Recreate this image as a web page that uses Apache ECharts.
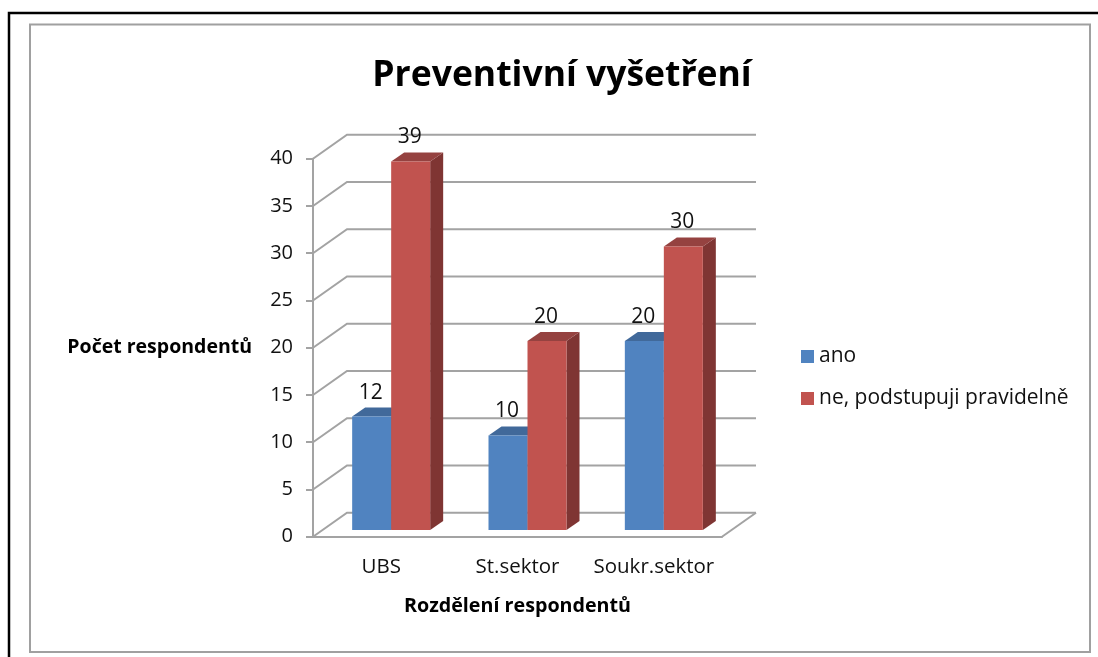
<!DOCTYPE html>
<html>
<head>
<meta charset="utf-8">
<style>html,body{margin:0;padding:0;background:#fff}#chart{width:1098px;height:657px}</style>
<script src="https://cdn.jsdelivr.net/npm/echarts@6/dist/echarts.min.js"></script>
</head>
<body>
<div id="chart"></div>
<script>
// Survey results: preventive check-ups by respondent group
const categories = ['UBS', 'St.sektor', 'Soukr.sektor'];
const anoValues = [12, 10, 20];
const neValues = [39, 20, 30];
const yTicks = [0, 5, 10, 15, 20, 25, 30, 35, 40];

const FONT = 'Open Sans';
const TEXT = '#111111';
const GRID = '#a3a3a3';

// Oblique projection used for the pseudo-3D look
const WALL_DX = 34, WALL_DY = -24;
const BAR_DX = 10, BAR_DY = -6.7;
const DEPTH_DX = 13, DEPTH_DY = -9;
const BAR_W = 39;

function barRenderer(colors, shift) {
  return function (params, api) {
    const v = api.value(1);
    const top = api.coord([api.value(0), v]);
    const base = api.coord([api.value(0), 0]);
    const x0 = top[0] + BAR_DX + shift, x1 = x0 + BAR_W;
    const yT = top[1] + BAR_DY, yB = base[1] + BAR_DY;
    return {
      type: 'group',
      children: [
        { type: 'polygon', shape: { points: [[x1, yT], [x1 + DEPTH_DX, yT + DEPTH_DY], [x1 + DEPTH_DX, yB + DEPTH_DY], [x1, yB]] }, style: { fill: colors.side } },
        { type: 'polygon', shape: { points: [[x0, yT], [x1, yT], [x1 + DEPTH_DX, yT + DEPTH_DY], [x0 + DEPTH_DX, yT + DEPTH_DY]] }, style: { fill: colors.top } },
        { type: 'rect', shape: { x: x0, y: yT, width: BAR_W, height: yB - yT }, style: { fill: colors.front } },
        { type: 'text', x: x0 + BAR_W / 2 - 1, y: yT - 24, style: { text: String(v), fill: TEXT, font: '21px "' + FONT + '"', align: 'center', verticalAlign: 'middle' } }
      ]
    };
  };
}

function wallRenderer(params, api) {
  const cs = params.coordSys;
  const v = api.value(0);
  const y = api.coord([0, v])[1];
  const children = [{
    type: 'polyline',
    shape: { points: [[cs.x, y], [cs.x + WALL_DX, y + WALL_DY], [cs.x + cs.width + WALL_DX, y + WALL_DY]] },
    style: { stroke: GRID, lineWidth: 2, fill: null }
  }];
  if (v === 0) {
    children.push({
      type: 'line',
      shape: { x1: cs.x + cs.width, y1: y, x2: cs.x + cs.width + WALL_DX, y2: y + WALL_DY },
      style: { stroke: GRID, lineWidth: 2 }
    });
  }
  return { type: 'group', children };
}

const chart = echarts.init(document.getElementById('chart'), null, { renderer: 'canvas' });
chart.setOption({
  animation: false,
  backgroundColor: '#ffffff',
  textStyle: { fontFamily: FONT, color: TEXT },
  title: {
    text: 'Preventivní vyšetření',
    left: 557, top: 71, textAlign: 'center', textVerticalAlign: 'middle',
    textStyle: { fontFamily: FONT, fontSize: 35.5, fontWeight: 'bold', color: '#000' }
  },
  legend: {
    orient: 'vertical', left: 801, top: 346, padding: 0, itemWidth: 13, itemHeight: 13, itemGap: 21,
    icon: 'rect',
    data: ['ano', 'ne, podstupuji pravidelně'],
    textStyle: { fontFamily: FONT, fontSize: 21, color: TEXT }
  },
  grid: { left: 313, right: 376, top: 158.7, bottom: 120.3, outerBoundsMode: 'none' },
  xAxis: {
    type: 'category', data: categories,
    name: 'Rozdělení respondentů', nameLocation: 'middle', nameGap: 60,
    nameTextStyle: { fontFamily: FONT, fontSize: 19.7, fontWeight: 'bold', color: '#000' },
    axisLine: { lineStyle: { color: GRID, width: 2 } },
    axisTick: { length: 6, lineStyle: { color: GRID, width: 2 } },
    axisLabel: { fontFamily: FONT, fontSize: 20.5, color: TEXT, margin: 20, interval: 0 }
  },
  yAxis: {
    type: 'value', min: 0, max: 40, interval: 5,
    name: 'Počet respondentů', nameLocation: 'middle', nameRotate: 0, nameGap: 61,
    nameTextStyle: { fontFamily: FONT, fontSize: 19.5, fontWeight: 'bold', color: '#000', padding: [6, 0, 0, 0] },
    axisLine: { show: true, lineStyle: { color: GRID, width: 2 } },
    axisTick: { show: true, length: 7, lineStyle: { color: GRID, width: 2 } },
    axisLabel: { fontFamily: FONT, fontSize: 20, color: TEXT, margin: 20, padding: [6, 0, 0, 0] },
    splitLine: { show: false }
  },
  series: [
    { type: 'custom', z: 1, silent: true, coordinateSystem: 'cartesian2d', data: yTicks.map(v => [v]), encode: { y: 0 }, renderItem: wallRenderer },
    {
      type: 'custom', z: 2, name: 'ano', coordinateSystem: 'cartesian2d',
      itemStyle: { color: '#5083C0' },
      data: anoValues.map((v, i) => [i, v]),
      encode: { x: 0, y: 1 },
      renderItem: barRenderer({ front: '#5083C0', side: '#37608f', top: '#41699a' }, -BAR_W)
    },
    {
      type: 'custom', z: 3, name: 'ne, podstupuji pravidelně', coordinateSystem: 'cartesian2d',
      itemStyle: { color: '#C1534F' },
      data: neValues.map((v, i) => [i, v]),
      encode: { x: 0, y: 1 },
      renderItem: barRenderer({ front: '#C1534F', side: '#7f3533', top: '#954240' }, 0)
    }
  ],
  graphic: [
    { type: 'polyline', silent: true, shape: { points: [[9, 657], [9, 13], [1098, 13]] }, style: { stroke: '#000', lineWidth: 2.5, fill: null } },
    { type: 'rect', silent: true, shape: { x: 30, y: 24.5, width: 1060, height: 627.5 }, style: { stroke: '#a0a0a0', lineWidth: 2, fill: null } }
  ]
});
</script>
</body>
</html>
